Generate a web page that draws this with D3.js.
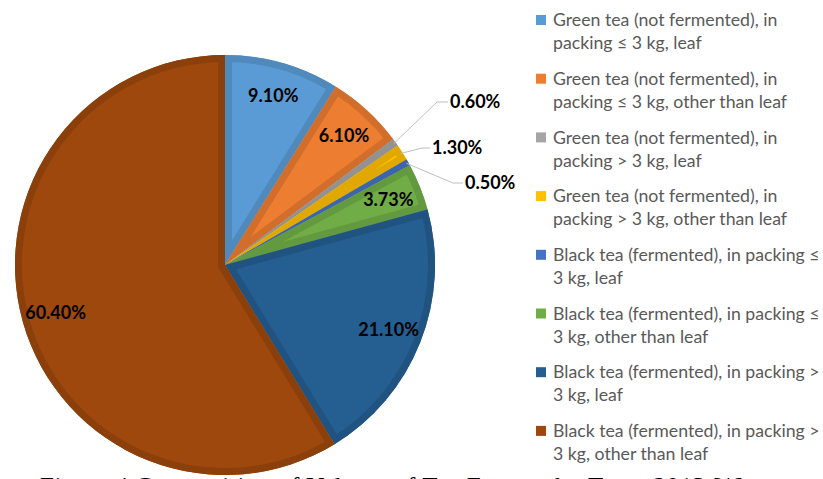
<!DOCTYPE html>
<html>
<head>
<meta charset="utf-8">
<script src="https://cdn.jsdelivr.net/npm/d3@7"></script>
<style>
  body { margin: 0; background: #fff; }
  svg { display: block; }
</style>
</head>
<body>
<div class="chart"></div>
<script>
// Tea export volume by type (shares as printed on the chart)
const categories = [
  'Green tea (not fermented), in packing ≤ 3 kg, leaf',
  'Green tea (not fermented), in packing ≤ 3 kg, other than leaf',
  'Green tea (not fermented), in packing > 3 kg, leaf',
  'Green tea (not fermented), in packing > 3 kg, other than leaf',
  'Black tea (fermented), in packing ≤ 3 kg, leaf',
  'Black tea (fermented), in packing ≤ 3 kg, other than leaf',
  'Black tea (fermented), in packing > 3 kg, leaf',
  'Black tea (fermented), in packing > 3 kg, other than leaf'
]
const values = [9.10, 6.10, 0.60, 1.30, 0.50, 3.73, 21.10, 60.40]
const valueLabels = ['9.10%', '6.10%', '0.60%', '1.30%', '0.50%', '3.73%', '21.10%', '60.40%']

// legend text as it wraps in the picture
const legendLines = [
  ['Green tea (not fermented), in', 'packing ≤ 3 kg, leaf'],
  ['Green tea (not fermented), in', 'packing ≤ 3 kg, other than leaf'],
  ['Green tea (not fermented), in', 'packing > 3 kg, leaf'],
  ['Green tea (not fermented), in', 'packing > 3 kg, other than leaf'],
  ['Black tea (fermented), in packing ≤', '3 kg, leaf'],
  ['Black tea (fermented), in packing ≤', '3 kg, other than leaf'],
  ['Black tea (fermented), in packing >', '3 kg, leaf'],
  ['Black tea (fermented), in packing >', '3 kg, other than leaf']
]

const fills = ['#5b9bd5', '#ed7d31', '#a5a5a5', '#ffc000', '#4472c4', '#70ad47', '#255e91', '#9e480e']
const caption = 'Figure 4 Composition of Volume of Tea Exports by Type, 2013 [1]'

const width = 823
const height = 479
const cx = 225
const cy = 265
const radius = 210

const svg = d3.select('.chart').append('svg')
  .attr('width', width)
  .attr('height', height)

// caption sits under the chart, mostly cut off
svg.append('text')
  .attr('x', 40)
  .attr('y', 495)
  .attr('textLength', 703)
  .style('font-family', '"Liberation Serif", serif')
  .style('font-size', '25px')
  .style('fill', '#000')
  .text(caption)

const pie = d3.pie().sort(null).value(d => d)
const arcs = pie(values)
const arc = d3.arc().innerRadius(0).outerRadius(radius)
const labelArc = d3.arc().innerRadius(176).outerRadius(176)

const g = svg.append('g').attr('transform', `translate(${cx},${cy})`)
const defs = svg.append('defs')

arcs.forEach((d, i) => {
  defs.append('clipPath')
    .attr('id', 'clip' + i)
    .append('path')
    .attr('d', arc(d))
})

const slices = g.selectAll('g.slice')
  .data(arcs)
  .enter()
  .append('g')
  .attr('class', 'slice')

slices.append('path')
  .attr('d', arc)
  .style('fill', (d, i) => fills[i])

// darker border drawn inside each slice
slices.append('path')
  .attr('d', arc)
  .attr('clip-path', (d, i) => `url(#clip${i})`)
  .style('fill', 'none')
  .style('stroke', (d, i) => d3.color(fills[i]).darker(0.35))
  .style('stroke-width', 14)
  .style('stroke-linejoin', 'miter')

// small slices get their labels outside with leader lines
const outside = { 2: [[437, 102], [448, 102]], 3: [[422, 148], [430, 148]], 4: [[453, 183], [463, 183]] }

const labelStyle = sel => sel
  .style('font-family', 'Lato, "Open Sans", sans-serif')
  .style('font-weight', 'bold')
  .style('font-size', '18px')
  .style('fill', '#000')

arcs.forEach((d, i) => {
  if (outside[i]) {
    const a = (d.startAngle + d.endAngle) / 2
    const sx = cx + Math.sin(a) * (radius - 2)
    const sy = cy - Math.cos(a) * (radius - 2)
    const pts = [[sx, sy]].concat(outside[i])
    svg.append('path')
      .attr('d', d3.line()(pts))
      .style('fill', 'none')
      .style('stroke', '#bfbfbf')
      .style('stroke-width', 1)
    svg.append('text')
      .attr('x', outside[i][1][0] + 2)
      .attr('y', outside[i][1][1])
      .attr('dy', '0.35em')
      .call(labelStyle)
      .text(valueLabels[i])
  } else {
    const c = labelArc.centroid(d)
    g.append('text')
      .attr('x', c[0])
      .attr('y', c[1])
      .attr('dy', '0.35em')
      .attr('text-anchor', 'middle')
      .call(labelStyle)
      .text(valueLabels[i])
  }
})

// legend
const legend = svg.append('g')
  .attr('transform', 'translate(536,20)')

const items = legend.selectAll('g.item')
  .data(categories)
  .enter()
  .append('g')
  .attr('class', 'item')
  .attr('transform', (d, i) => `translate(0,${i * 58.7})`)

items.append('rect')
  .attr('x', 0)
  .attr('y', -5)
  .attr('width', 10)
  .attr('height', 10)
  .style('fill', (d, i) => fills[i])

items.each(function (d, i) {
  d3.select(this).selectAll('text')
    .data(legendLines[i])
    .enter()
    .append('text')
    .attr('x', 17)
    .attr('y', (t, j) => j * 23)
    .attr('dy', '0.35em')
    .style('font-family', 'Lato, "Open Sans", sans-serif')
    .style('font-size', '17.7px')
    .style('fill', '#595959')
    .text(t => t)
})
</script>
</body>
</html>
